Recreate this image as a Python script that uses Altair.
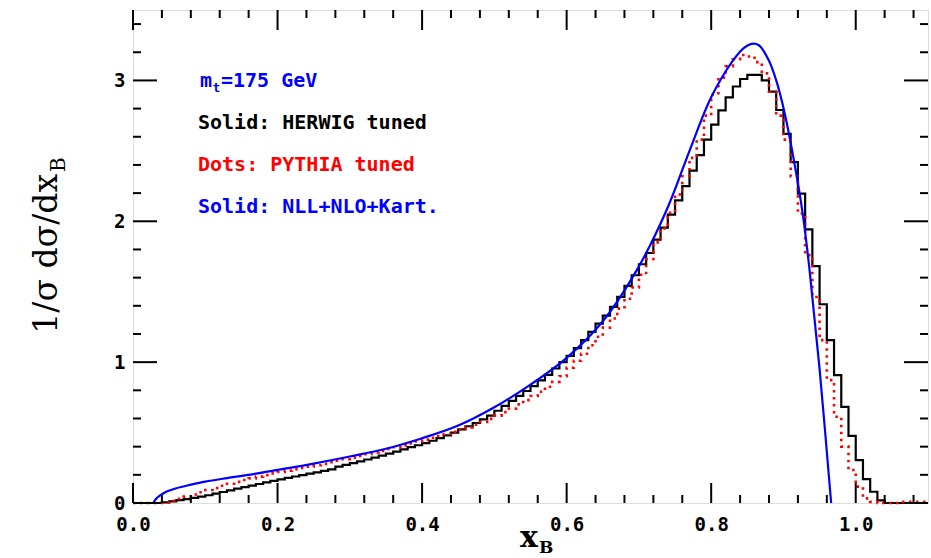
import altair as alt
import pandas as pd

# ---------------- data ----------------
bin_lo = [round(0.01 * i, 2) for i in range(110)]  # histogram bin left edges (0.00 .. 1.09), width 0.01

herwig = [
    0, 0, 0, 0, 0.004, 0.012, 0.02, 0.028, 0.036, 0.045,
    0.055, 0.066, 0.078, 0.09, 0.102, 0.113, 0.124, 0.135, 0.146, 0.157,
    0.168, 0.178, 0.188, 0.198, 0.208, 0.218, 0.228, 0.239, 0.258, 0.27,
    0.283, 0.296, 0.309, 0.322, 0.336, 0.35, 0.365, 0.38, 0.396, 0.41,
    0.425, 0.442, 0.46, 0.48, 0.50, 0.522, 0.545, 0.568, 0.593, 0.62,
    0.655, 0.69, 0.725, 0.76, 0.795, 0.83, 0.87, 0.91, 0.955, 1.0,
    1.045, 1.10, 1.156, 1.215, 1.274, 1.33, 1.392, 1.463, 1.541, 1.617,
    1.695, 1.775, 1.87, 1.955, 2.048, 2.149, 2.25, 2.36, 2.47, 2.58,
    2.686, 2.787, 2.88, 2.957, 3.01, 3.04, 3.04, 3.0, 2.92, 2.79,
    2.62, 2.42, 2.196, 1.943, 1.681, 1.411, 1.156, 0.908, 0.683, 0.477,
    0.305, 0.17, 0.08, 0.018, 0, 0, 0, 0, 0, 0,
]

pythia = [
    0, 0, 0, 0, 0.004, 0.015, 0.03, 0.045, 0.06, 0.076,
    0.092, 0.107, 0.122, 0.137, 0.15, 0.163, 0.175, 0.187, 0.198, 0.21,
    0.22, 0.23, 0.24, 0.249, 0.258, 0.268, 0.278, 0.289, 0.3, 0.311,
    0.322, 0.334, 0.346, 0.358, 0.37, 0.383, 0.396, 0.409, 0.423, 0.437,
    0.45, 0.463, 0.476, 0.49, 0.505, 0.52, 0.537, 0.555, 0.575, 0.597,
    0.62, 0.645, 0.67, 0.70, 0.73, 0.76, 0.79, 0.825, 0.86, 0.90,
    0.96, 1.01, 1.06, 1.12, 1.18, 1.245, 1.31, 1.38, 1.45, 1.53,
    1.62, 1.73, 1.85, 1.95, 2.06, 2.19, 2.32, 2.45, 2.58, 2.75,
    2.90, 3.02, 3.10, 3.15, 3.18, 3.17, 3.13, 3.05, 2.92, 2.75,
    2.58, 2.32, 2.055, 1.76, 1.463, 1.156, 0.872, 0.612, 0.40, 0.234,
    0.116, 0.033, 0.008, 0, 0, 0, 0.008, 0.008, 0.008, 0.008,
]

nll_x = [0.028, 0.032, 0.037, 0.046, 0.06, 0.08, 0.1, 0.13, 0.16, 0.2,
         0.25, 0.3, 0.35, 0.4, 0.45, 0.5, 0.55, 0.6, 0.65, 0.7,
         0.74, 0.77, 0.8, 0.83, 0.845, 0.856, 0.866, 0.879, 0.89, 0.902,
         0.918, 0.927, 0.936, 0.95, 0.966]
nll_y = [0, 0.03, 0.052, 0.08, 0.105, 0.13, 0.152, 0.177, 0.2, 0.235,
         0.28, 0.33, 0.385, 0.46, 0.55, 0.68, 0.84, 1.03, 1.29, 1.68,
         2.1, 2.5, 2.88, 3.14, 3.23, 3.26, 3.25, 3.15, 3.0, 2.76,
         2.33, 2.04, 1.66, 0.95, 0]

x_major = [0.0, 0.2, 0.4, 0.6, 0.8, 1.0]
x_minor = [0.04, 0.08, 0.12, 0.16, 0.24, 0.28, 0.32, 0.36, 0.44, 0.48, 0.52, 0.56,
           0.64, 0.68, 0.72, 0.76, 0.84, 0.88, 0.92, 0.96, 1.04, 1.08]
y_major = [0, 1, 2, 3]
y_minor = [0.2, 0.4, 0.6, 0.8, 1.2, 1.4, 1.6, 1.8, 2.2, 2.4, 2.6, 2.8, 3.2, 3.4]

legend_lines = ["Solid: HERWIG tuned", "Dots: PYTHIA tuned", "Solid: NLL+NLO+Kart."]
legend_colors = ["black", "red", "blue"]

# ---------------- layout ----------------
W, H = 795, 493
MONO = "DejaVu Sans Mono"
SERIF = "DejaVu Serif"

xs = alt.Scale(domain=[0, 1.1], nice=False, zero=False)
ys = alt.Scale(domain=[0, 3.5], nice=False)

edges = bin_lo + [1.10]
df_h = pd.DataFrame({"x": edges, "y": herwig + [herwig[-1]]})
df_p = pd.DataFrame({"x": edges, "y": pythia + [pythia[-1]]})
df_n = pd.DataFrame({"x": nll_x, "y": nll_y})

xaxis = alt.Axis(values=x_major, format=".1f", labelFont=MONO, labelFontWeight="bold",
                 labelFontSize=19, labelColor="black", ticks=False, domain=False,
                 grid=False, labelPadding=12, title=None, labelFlush=False)
yaxis = alt.Axis(values=y_major, format="d", labelFont=MONO, labelFontWeight="bold",
                 labelFontSize=19, labelColor="black", ticks=False, domain=False,
                 grid=False, labelPadding=8, title=None, labelBaseline="middle")

herwig_line = alt.Chart(df_h).mark_line(interpolate="step-after", color="black",
                                        strokeWidth=2.2).encode(
    x=alt.X("x:Q", scale=xs, axis=xaxis),
    y=alt.Y("y:Q", scale=ys, axis=yaxis),
)
pythia_line = alt.Chart(df_p).mark_line(interpolate="step-after", color="red",
                                        strokeWidth=2.6, strokeDash=[2.5, 4.5]).encode(
    x=alt.X("x:Q", scale=xs, axis=xaxis), y=alt.Y("y:Q", scale=ys, axis=yaxis))
nll_line = alt.Chart(df_n).mark_line(interpolate="catmull-rom", color="blue",
                                     strokeWidth=2.2).encode(
    x=alt.X("x:Q", scale=xs, axis=xaxis), y=alt.Y("y:Q", scale=ys, axis=yaxis))


def xticks(vals, length):
    d = pd.DataFrame({"x": vals})
    b = alt.Chart(d).mark_rule(color="black", strokeWidth=2).encode(
        x=alt.X("x:Q", scale=xs, axis=xaxis), y=alt.value(H), y2=alt.value(H - length))
    t = alt.Chart(d).mark_rule(color="black", strokeWidth=2).encode(
        x=alt.X("x:Q", scale=xs, axis=xaxis), y=alt.value(0), y2=alt.value(length))
    return [b, t]


def yticks(vals, length):
    d = pd.DataFrame({"y": vals})
    l = alt.Chart(d).mark_rule(color="black", strokeWidth=2).encode(
        y=alt.Y("y:Q", scale=ys, axis=yaxis), x=alt.value(0), x2=alt.value(length))
    r = alt.Chart(d).mark_rule(color="black", strokeWidth=2).encode(
        y=alt.Y("y:Q", scale=ys, axis=yaxis), x=alt.value(W), x2=alt.value(W - length))
    return [l, r]


ticks = xticks(x_major, 20) + xticks(x_minor, 8) + yticks(y_major, 24) + yticks(y_minor, 8)


def label(text, x, y, color="black", size=20, font=MONO, weight="bold", align="left",
          angle=0, baseline="alphabetic"):
    return alt.Chart(pd.DataFrame({"t": [text]})).mark_text(
        font=font, fontSize=size, fontWeight=weight, color=color, align=align,
        baseline=baseline, angle=angle).encode(
        x=alt.value(x), y=alt.value(y), text="t:N")


texts = [
    label("m", 79, 77, color="blue", align="right"),
    label("t", 79.5, 82, color="blue", size=13),
    label("=175 GeV", 88, 77, color="blue"),
]
for i, (s, c) in enumerate(zip(legend_lines, legend_colors)):
    texts.append(label(s, 65, 119 + 42 * i, color=c))

# axis titles with subscripts
texts += [
    label("x", 405, 537, size=30, font=SERIF, align="right"),
    label("B", 406, 543, size=17, font=SERIF),
    label("1/σ dσ/dx", -76, 164, size=33, font=SERIF, weight="normal", align="right",
          angle=270),
    label("B", -68, 162, size=20, font=SERIF, weight="normal", align="left", angle=270),
]

chart = alt.layer(herwig_line, pythia_line, nll_line, *ticks, *texts).properties(
    width=W, height=H,
    padding={"left": 133, "top": 10, "right": 3, "bottom": 55},
    autosize=alt.AutoSizeParams(type="none"),
).configure_view(stroke="black", strokeWidth=2.2).configure(background="white")

chart.save("out.html", embed_options={"renderer": "svg", "actions": False})
